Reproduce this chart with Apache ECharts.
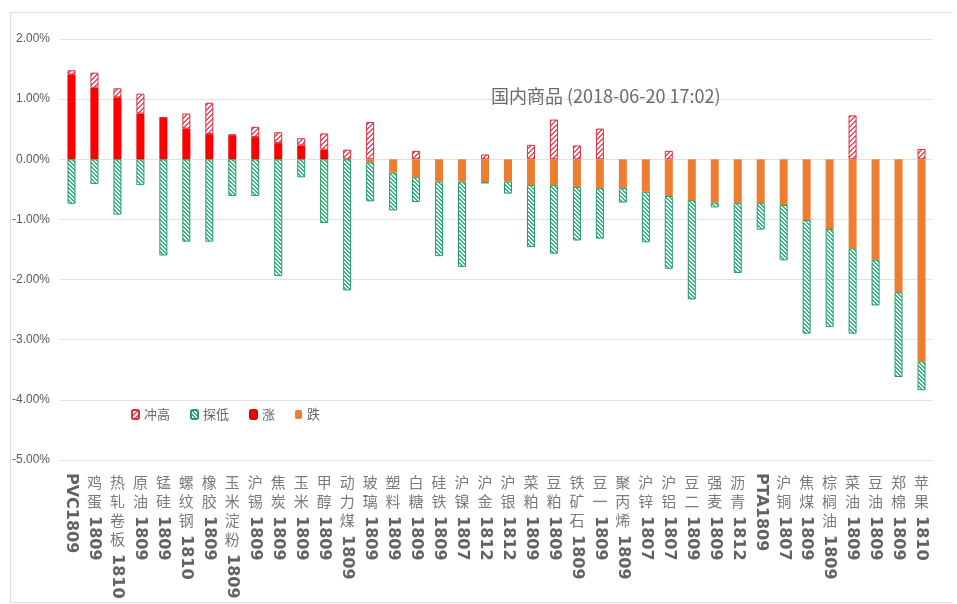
<!DOCTYPE html>
<html>
<head>
<meta charset="utf-8">
<title>国内商品</title>
<style>
  html, body { margin: 0; padding: 0; background: #fff; }
  #chart { width: 957px; height: 604px; }
  #frame { position: absolute; left: 10px; top: 12px; width: 942px; height: 589px; border: 1px solid #dedede; border-right: none; pointer-events: none; }
</style>
</head>
<body>
<div id="chart"></div>
<div id="frame"></div>
<script src="https://cdn.jsdelivr.net/npm/echarts@6/dist/echarts.min.js"></script>
<script>
// 品种
const categories = ['PVC1809', '鸡蛋1809', '热轧卷板1810', '原油1809', '锰硅1809', '螺纹钢1810', '橡胶1809',
  '玉米淀粉1809', '沪锡1809', '焦炭1809', '玉米1809', '甲醇1809', '动力煤1809', '玻璃1809', '塑料1809',
  '白糖1809', '硅铁1809', '沪镍1807', '沪金1812', '沪银1812', '菜粕1809', '豆粕1809', '铁矿石1809',
  '豆一1809', '聚丙烯1809', '沪锌1807', '沪铝1807', '豆二1809', '强麦1809', '沥青1812', 'PTA1809',
  '沪铜1807', '焦煤1809', '棕榈油1809', '菜油1809', '豆油1809', '郑棉1809', '苹果1810'];
// 收盘涨跌幅 %
const closeChg = [1.41, 1.19, 1.03, 0.76, 0.69, 0.51, 0.42, 0.40, 0.37, 0.27, 0.23, 0.16, 0.00, -0.05, -0.22,
  -0.30, -0.37, -0.37, -0.38, -0.37, -0.43, -0.43, -0.46, -0.48, -0.48, -0.54, -0.61, -0.68, -0.72, -0.73,
  -0.73, -0.76, -1.01, -1.16, -1.48, -1.67, -2.21, -3.36];
// 最高 %
const highChg = [1.48, 1.44, 1.18, 1.09, 0.70, 0.76, 0.94, 0.41, 0.54, 0.45, 0.35, 0.43, 0.16, 0.62, 0,
  0.14, 0, 0, 0.08, 0, 0.24, 0.66, 0.23, 0.51, 0, 0, 0.14, 0, 0, 0,
  0, 0, 0, 0, 0.73, 0, 0, 0.17];
// 最低 %
const lowChg = [-0.74, -0.41, -0.92, -0.43, -1.60, -1.37, -1.37, -0.61, -0.61, -1.94, -0.30, -1.06, -2.18, -0.70, -0.85,
  -0.71, -1.61, -1.79, -0.40, -0.57, -1.46, -1.57, -1.35, -1.32, -0.72, -1.38, -1.82, -2.33, -0.80, -1.89,
  -1.17, -1.68, -2.90, -2.79, -2.90, -2.43, -3.62, -3.84];
const yMin = -5, yMax = 2, yStep = 1;

const fix = v => Math.round(v * 100) / 100;
const rise = closeChg.map(v => v > 0 ? v : null);
const fall = closeChg.map(v => v < 0 ? v : null);
const upper = closeChg.map((v, i) => { const d = fix(highChg[i] - Math.max(v, 0)); return d > 0 ? d : null; });
const lower = closeChg.map((v, i) => { const d = fix(lowChg[i] - Math.min(v, 0)); return d < 0 ? d : null; });

function hatch(color, size, thick, backslash) {
  const c = document.createElement('canvas');
  c.width = c.height = size;
  const ctx = c.getContext('2d');
  ctx.fillStyle = '#fff';
  ctx.fillRect(0, 0, size, size);
  ctx.fillStyle = color;
  for (let x = 0; x < size; x++) {
    for (let y = 0; y < size; y++) {
      const k = backslash ? (x - y + size) % size : (x + y) % size;
      if (k < thick) ctx.fillRect(x, y, 1, 1);
    }
  }
  return { image: c, repeat: 'repeat' };
}

const cnPart = s => (s.match(/^[^\x00-\x7f]*/) || [''])[0];
const rich = {};
for (let n = 0; n <= 4; n++) {
  rich['p' + n] = {
    fontSize: 16, fontWeight: 'bold', fontFamily: 'DejaVu Sans', color: '#626262',
    padding: [0, 0, 0, n ? n * 19 + 5 : 0]
  };
}

const chart = echarts.init(document.getElementById('chart'));
chart.setOption({
  animation: false,
  title: {
    text: '国内商品 (2018-06-20 17:02)',
    left: 486, top: 82,
    textStyle: { fontSize: 18, fontWeight: 'normal', color: '#6a6a6a', fontFamily: 'Noto Sans CJK SC' }
  },
  legend: {
    data: ['冲高', '探低', '涨', '跌'],
    left: 126, top: 403,
    itemWidth: 7, itemHeight: 9, itemGap: 20,
    textStyle: { fontSize: 13, color: '#666', fontFamily: 'Noto Sans CJK SC' }
  },
  grid: { left: 60, right: 24, top: 39, bottom: 144 },
  xAxis: [{
    type: 'category',
    data: categories,
    position: 'bottom',
    axisLine: { show: false },
    axisTick: { show: false },
    axisLabel: {
      interval: 0, margin: 13,
      fontSize: 15, lineHeight: 19, color: '#7a7a7a', fontFamily: 'Noto Sans CJK SC',
      formatter: v => cnPart(v).split('').join('\n')
    }
  }, {
    type: 'category',
    data: categories,
    position: 'bottom',
    axisLine: { show: false },
    axisTick: { show: false },
    axisLabel: {
      interval: 0, margin: 13, rotate: -90,
      formatter: v => {
        const cn = cnPart(v);
        return '{p' + cn.length + '|' + v.slice(cn.length) + '}';
      },
      rich: rich
    }
  }],
  yAxis: {
    type: 'value',
    min: yMin, max: yMax, interval: yStep,
    axisLine: { show: false },
    axisTick: { show: false },
    splitLine: { lineStyle: { color: '#e2e2e2' } },
    axisLabel: {
      margin: 10, fontSize: 12, color: '#595959', fontFamily: 'Liberation Sans',
      formatter: v => v.toFixed(2) + '%'
    }
  },
  series: [{
    name: '涨', type: 'bar', stack: 'chg', barWidth: 8, data: rise,
    itemStyle: { color: '#ff0000', borderColor: '#e00000', borderWidth: 0.5 }
  }, {
    name: '冲高', type: 'bar', stack: 'chg', barWidth: 8, data: upper,
    itemStyle: { color: hatch('#f2505e', 5, 2, false), borderColor: '#e0283c', borderWidth: 1 }
  }, {
    name: '跌', type: 'bar', stack: 'chg', barWidth: 8, data: fall,
    itemStyle: { color: '#ed7d31' }
  }, {
    name: '探低', type: 'bar', stack: 'chg', barWidth: 8, data: lower,
    itemStyle: { color: hatch('#3cba84', 4, 2, true), borderColor: '#1f9d63', borderWidth: 1 }
  }]
});
</script>
</body>
</html>
